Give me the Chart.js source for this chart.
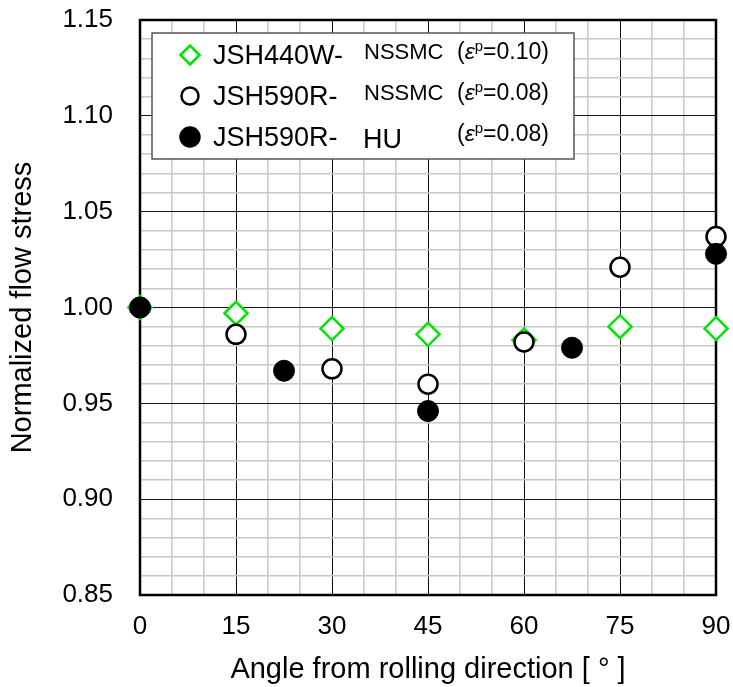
<!DOCTYPE html>
<html lang="en">

<head>
    <meta charset="UTF-8">
    <title>Normalized flow stress</title>
    <style>
        body { margin: 0; background: #fff; }
        #wrap { width: 733px; height: 687px; }
    </style>
</head>

<body>

<div id="wrap">
    <canvas id="flowChart" width="733" height="687"></canvas>
</div>

<script src="https://cdn.jsdelivr.net/npm/chart.js"></script>

<script>
    // Angles [deg] and normalized flow stress values
    const anglesNssmc = [0, 15, 30, 45, 60, 75, 90];
    const anglesHu = [0, 22.5, 45, 67.5, 90];
    const jsh440wNssmc = [1.000, 0.997, 0.989, 0.986, 0.983, 0.990, 0.989];
    const jsh590rNssmc = [1.000, 0.986, 0.968, 0.960, 0.982, 1.021, 1.037];
    const jsh590rHu = [1.000, 0.967, 0.946, 0.979, 1.028];

    const xMajorStep = 15;
    const yTickLabels = ['0.85', '0.90', '0.95', '1.00', '1.05', '1.10', '1.15'];

    const GREEN = '#00e600';
    const FONT = "'Liberation Sans', Arial, sans-serif";

    function toPoints(xs, ys) {
        return xs.map((x, i) => ({x: x, y: ys[i]}));
    }

    // frame around the plot area (drawn above the grid, below the markers)
    const frame = {
        id: 'frame',
        beforeDatasetsDraw(chart) {
            const a = chart.chartArea;
            const ctx = chart.ctx;
            ctx.save();
            ctx.strokeStyle = '#000';
            ctx.lineWidth = 2.5;
            ctx.strokeRect(a.left, a.top, a.right - a.left, a.bottom - a.top);
            ctx.restore();
        }
    };

    // legend box with mixed font sizes
    const legendBox = {
        id: 'legendBox',
        afterDatasetsDraw(chart) {
            const ctx = chart.ctx;
            ctx.save();
            ctx.fillStyle = '#fff';
            ctx.fillRect(152, 33, 422, 126);
            ctx.strokeStyle = '#555';
            ctx.lineWidth = 1.5;
            ctx.strokeRect(152, 33, 422, 126);

            const rows = [
                {y: 55, style: 'rectRot', r: 9.5, fill: '#fff', stroke: GREEN, main: 'JSH440W-', lab: 'NSSMC', big: false, eps: '0.10'},
                {y: 96, style: 'circle', r: 8.5, fill: '#fff', stroke: '#000', main: 'JSH590R-', lab: 'NSSMC', big: false, eps: '0.08'},
                {y: 137, style: 'circle', r: 9.5, fill: '#000', stroke: '#000', main: 'JSH590R-', lab: 'HU', big: true, eps: '0.08'}
            ];

            rows.forEach(row => {
                ctx.fillStyle = row.fill;
                ctx.strokeStyle = row.stroke;
                ctx.lineWidth = 2.5;
                Chart.helpers.drawPoint(ctx, {pointStyle: row.style, radius: row.r, rotation: 0, borderWidth: 2.5}, 190, row.y);

                ctx.fillStyle = '#000';
                ctx.textBaseline = 'alphabetic';
                ctx.textAlign = 'left';
                ctx.font = '27px ' + FONT;
                ctx.fillText(row.main, 213, row.y + 9);

                if (row.big) {
                    ctx.fillText(row.lab, 363, row.y + 11);
                } else {
                    ctx.font = '22px ' + FONT;
                    ctx.fillText(row.lab, 364, row.y + 4);
                }

                // (εp=...)
                let x = 457;
                const base = row.y + 4;
                ctx.font = '23px ' + FONT;
                ctx.fillText('(', x, base);
                x += ctx.measureText('(').width;
                ctx.font = 'italic 23px ' + FONT;
                ctx.fillText('ε', x, base);
                x += ctx.measureText('ε').width;
                ctx.font = '15px ' + FONT;
                ctx.fillText('p', x, base - 8);
                x += ctx.measureText('p').width;
                ctx.font = '23px ' + FONT;
                ctx.fillText('=' + row.eps + ')', x, base);
            });
            ctx.restore();
        }
    };

    const isMajorX = v => Math.round(v) % xMajorStep === 0;
    const isMajorY = v => Math.round(v * 100) % 5 === 0;

    new Chart(document.getElementById('flowChart'), {
        type: 'scatter',
        data: {
            datasets: [{
                label: 'JSH590R- HU (εp=0.08)',
                data: toPoints(anglesHu, jsh590rHu),
                pointStyle: 'circle',
                pointRadius: 10.5,
                pointBackgroundColor: '#000',
                pointBorderColor: '#000',
                pointBorderWidth: 1,
                order: 1,
                clip: false
            }, {
                label: 'JSH590R- NSSMC (εp=0.08)',
                data: toPoints(anglesNssmc, jsh590rNssmc),
                pointStyle: 'circle',
                pointRadius: 9.5,
                pointBackgroundColor: '#fff',
                pointBorderColor: '#000',
                pointBorderWidth: 2.5,
                order: 2,
                clip: false
            }, {
                label: 'JSH440W- NSSMC (εp=0.10)',
                data: toPoints(anglesNssmc, jsh440wNssmc),
                pointStyle: 'rectRot',
                pointRadius: 11.5,
                pointBackgroundColor: '#fff',
                pointBorderColor: GREEN,
                pointBorderWidth: 2.5,
                order: 3,
                clip: false
            }]
        },
        options: {
            responsive: false,
            animation: false,
            events: [],
            layout: {
                autoPadding: false,
                padding: {left: 0, right: 17, top: 20, bottom: 0}
            },
            plugins: {
                legend: {display: false},
                tooltip: {enabled: false}
            },
            scales: {
                x: {
                    type: 'linear',
                    min: 0,
                    max: 90,
                    afterFit: scale => {
                        scale.height = 92;
                        scale.paddingLeft = 0;
                        scale.paddingRight = 0;
                    },
                    ticks: {
                        stepSize: 5,
                        autoSkip: false,
                        maxRotation: 0,
                        padding: 16,
                        color: '#000',
                        font: {family: FONT, size: 26},
                        callback: v => isMajorX(v) ? String(v) : ''
                    },
                    grid: {
                        drawTicks: false,
                        color: ctx => isMajorX(ctx.tick.value) ? '#111' : '#c8c8c8',
                        lineWidth: ctx => isMajorX(ctx.tick.value) ? 1 : 1.5
                    },
                    border: {display: false},
                    title: {
                        display: true,
                        text: 'Angle from rolling direction [ ° ]',
                        color: '#000',
                        font: {family: FONT, size: 29},
                        padding: {top: 0, bottom: 0}
                    }
                },
                y: {
                    type: 'linear',
                    min: 0.85,
                    max: 1.15,
                    afterFit: scale => {
                        scale.width = 140;
                        scale.paddingTop = 0;
                        scale.paddingBottom = 0;
                    },
                    ticks: {
                        stepSize: 0.01,
                        autoSkip: false,
                        padding: 27,
                        color: '#000',
                        font: {family: FONT, size: 26},
                        callback: v => {
                            if (!isMajorY(v)) return '';
                            const label = v.toFixed(2);
                            return yTickLabels.includes(label) ? label : '';
                        }
                    },
                    grid: {
                        drawTicks: false,
                        color: ctx => isMajorY(ctx.tick.value) ? '#111' : '#c8c8c8',
                        lineWidth: ctx => isMajorY(ctx.tick.value) ? 1 : 1.5
                    },
                    border: {display: false},
                    title: {
                        display: true,
                        text: 'Normalized flow stress',
                        color: '#000',
                        font: {family: FONT, size: 29},
                        padding: {top: 6, bottom: 0}
                    }
                }
            }
        },
        plugins: [frame, legendBox]
    });
</script>

</body>

</html>
